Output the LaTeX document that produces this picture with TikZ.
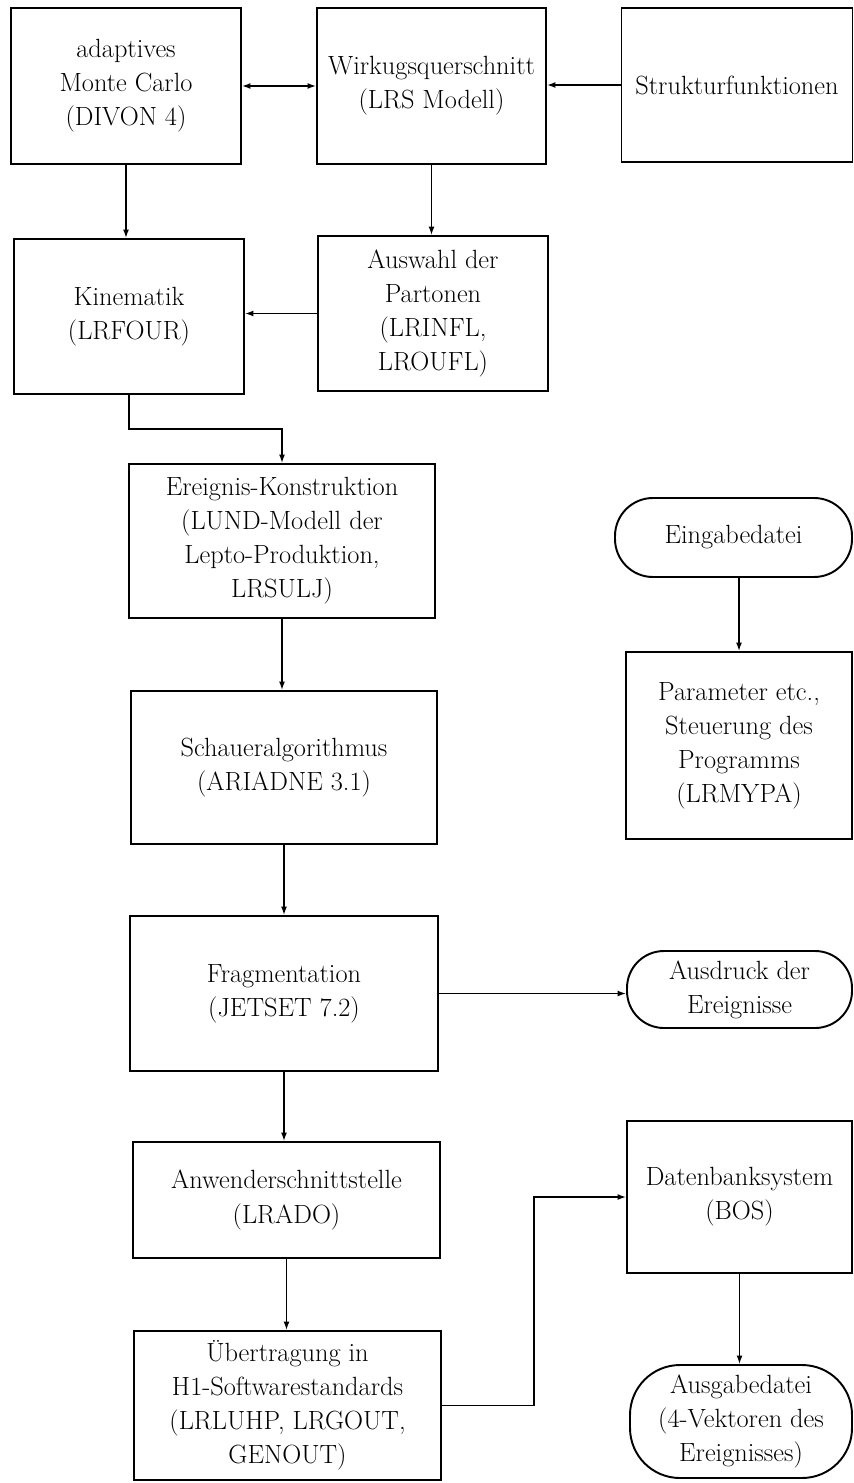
\documentclass[tikz,border=0pt]{standalone}
\usepackage{fontspec}
\usepackage{tikz}
\usetikzlibrary{arrows.meta, calc}

\begin{document}
\begin{tikzpicture}[x=0.02cm, y=-0.02cm, >={Latex[length=1.7mm,width=1.2mm]},
	every node/.style={font=\fontsize{15}{19.4}\selectfont\addfontfeatures{FakeBold=0.8}, align=center, inner sep=0pt},
	kasten/.style 2 args={draw, line width=1.1pt, minimum width=#1*0.02cm, minimum height=#2*0.02cm},
	pfeil/.style={->, line width=0.8pt}]
	\useasboundingbox (0,0) rectangle (854,1483);

	% --- Zeile 1 ---
	\node[kasten={230}{156}] (mc) at (126,86) {adaptives\\Monte Carlo\\(DIVON 4)};
	\node[kasten={229}{156}] (wq) at (431.5,86) {Wirkugsquerschnitt\\(LRS Modell)};
	\node[kasten={231}{154}] (sf) at (737,85) {Strukturfunktionen};

	% --- Zeile 2 ---
	\node[kasten={230}{155}] (kin) at (129,316.5) {Kinematik\\(LRFOUR)};
	\node[kasten={230}{155}] (ausw) at (433,313.5) {Auswahl der\\Partonen\\(LRINFL,\\LROUFL)};

	% --- Hauptkette ---
	\node[kasten={306}{154}] (erg) at (282,541) {Ereignis-Konstruktion\\(LUND-Modell der\\Lepto-Produktion,\\LRSULJ)};
	\node[kasten={306}{153}] (schauer) at (284,767.5) {Schaueralgorithmus\\(ARIADNE 3.1)};
	\node[kasten={308}{155}] (frag) at (284,993.5) {Fragmentation\\(JETSET 7.2)};
	\node[kasten={307}{116}] (anw) at (286.5,1200) {Anwenderschnittstelle\\(LRADO)};
	\node[kasten={307}{149}] (ueb) at (287.5,1405.5) {Übertragung in\\H1-Softwarestandards\\(LRLUHP, LRGOUT,\\GENOUT)};

	% --- rechte Spalte ---
	\node[kasten={237}{79}, rounded corners=0.76cm] (ein) at (733.5,537.5) {Eingabedatei};
	\node[kasten={226}{187}] (par) at (739,745.5) {Parameter etc.,\\Steuerung des\\Programms\\(LRMYPA)};
	\node[kasten={225}{77}, rounded corners=0.74cm] (druck) at (739.5,989.5) {Ausdruck der\\Ereignisse};
	\node[kasten={225}{152}] (bos) at (739.5,1197) {Datenbanksystem\\(BOS)};
	\node[kasten={222}{113}, rounded corners=1cm] (ausg) at (741,1421.5) {Ausgabedatei\\(4-Vektoren des\\Ereignisses)};

	% --- Verbindungen ---
	\draw[pfeil, <->] (mc.east) -- (wq.west);
	\draw[pfeil] (sf.west) -- (sf.west -| wq.east);
	\draw[pfeil] (mc.south) -- (mc.south |- kin.north);
	\draw[pfeil] (wq.south) -- (wq.south |- ausw.north);
	\draw[pfeil] (ausw.west) -- (ausw.west -| kin.east);
	\draw[pfeil] (kin.south) |- ($(kin.south)!.5!(erg.north)$) -| (erg.north);
	\draw[pfeil] (erg.south) -- (erg.south |- schauer.north);
	\draw[pfeil] (schauer.south) -- (schauer.south |- frag.north);
	\draw[pfeil] (frag.south) -- (frag.south |- anw.north);
	\draw[pfeil] (anw.south) -- (anw.south |- ueb.north);
	\draw[pfeil] (frag.east) -- (frag.east -| druck.west);
	\draw[pfeil] (ueb.east) -| ($(ueb.east)!.5!(bos.west)$) |- (bos.west);
	\draw[pfeil] (par.north |- ein.south) -- (par.north);
	\draw[pfeil] (bos.south) -- (bos.south |- ausg.north);
\end{tikzpicture}
\end{document}
